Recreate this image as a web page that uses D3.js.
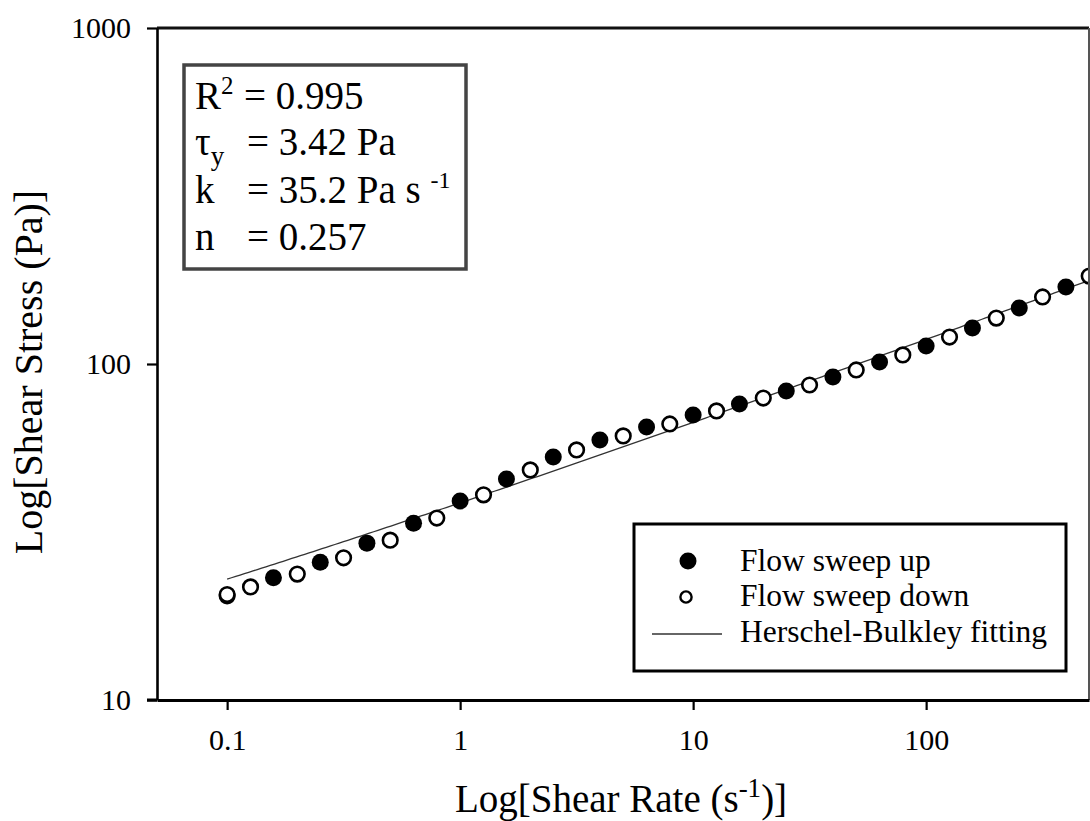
<!DOCTYPE html>
<html>
<head>
<meta charset="utf-8">
<script src="https://cdn.jsdelivr.net/npm/d3@7"></script>
<style>
  html, body { margin: 0; padding: 0; background: #fff; }
  svg { display: block; font-family: "Liberation Serif", "Times New Roman", serif; }
  svg text { font-family: "Liberation Serif", "Times New Roman", serif; }
</style>
</head>
<body>
<svg id="chart" width="1090" height="821"></svg>
<script>
// Flow sweep measurements: shear rate (1/s) and shear stress (Pa)
const shearUp = [0.1, 0.158, 0.251, 0.398, 0.631, 1, 1.58, 2.51, 3.98, 6.31, 10, 15.8, 25.1, 39.8, 63.1, 100, 158, 251, 398];
const stressUp = [20.4, 23.1, 25.7, 29.3, 33.6, 39.1, 45.5, 52.9, 59.4, 64.9, 70.5, 76.0, 83.1, 91.5, 101.4, 113.1, 128.0, 146.8, 169.5];

const shearDown = [0.1, 0.126, 0.2, 0.316, 0.501, 0.794, 1.26, 2.0, 3.16, 5.01, 7.94, 12.6, 20, 31.6, 50.1, 79.4, 126, 200, 316, 501];
const stressDown = [20.6, 21.7, 23.7, 26.5, 29.9, 34.8, 40.8, 48.4, 55.5, 61.1, 66.3, 72.5, 79.2, 86.6, 96.0, 106.4, 120.3, 137.0, 158.3, 182.7];

// Herschel-Bulkley parameters
const hbTauY = 3.42;
const hbK = 35.2;
const hbN = 0.257;
const hbR2 = 0.995;
const fitRange = [0.1, 500];

// Axis ticks
const xTicks = [0.1, 1, 10, 100];
const xTickLabels = ["0.1", "1", "10", "100"];
const yTicks = [10, 100, 1000];
const yTickLabels = ["10", "100", "1000"];

const legendLabels = ["Flow sweep up", "Flow sweep down", "Herschel-Bulkley fitting"];

const svg = d3.select("#chart");
const plotL = 157, plotR = 1089, plotT = 28, plotB = 700;

const x = d3.scaleLog().domain([0.05, 500]).range([plotL, plotR]);
const y = d3.scaleLog().domain([10, 1000]).range([plotB, plotT]);

// Fit curve from the stated model
const hb = g => hbTauY + hbK * Math.pow(g, hbN);
const lx0 = Math.log10(fitRange[0]), lx1 = Math.log10(fitRange[1]);
const fitPts = d3.range(0, 201).map(i => {
  const g = Math.pow(10, lx0 + (lx1 - lx0) * i / 200);
  return [g, hb(g)];
});
svg.append("path")
  .datum(fitPts)
  .attr("fill", "none")
  .attr("stroke", "#333")
  .attr("stroke-width", 1.3)
  .attr("d", d3.line().x(d => x(d[0])).y(d => y(d[1])));

// Sweep up (filled)
svg.append("g").selectAll("circle")
  .data(shearUp.map((g, i) => [g, stressUp[i]]))
  .join("circle")
  .attr("cx", d => x(d[0]))
  .attr("cy", d => y(d[1]))
  .attr("r", 8.5)
  .attr("fill", "#000");

// Sweep down (open)
svg.append("g").selectAll("circle")
  .data(shearDown.map((g, i) => [g, stressDown[i]]))
  .join("circle")
  .attr("cx", d => x(d[0]))
  .attr("cy", d => y(d[1]))
  .attr("r", 7.3)
  .attr("fill", "#fff")
  .attr("stroke", "#000")
  .attr("stroke-width", 2.6);

// Frame
svg.append("line").attr("x1", plotL).attr("x2", plotR).attr("y1", plotT).attr("y2", plotT)
  .attr("stroke", "#111").attr("stroke-width", 3);
svg.append("line").attr("x1", plotR).attr("x2", plotR).attr("y1", plotT).attr("y2", plotB)
  .attr("stroke", "#555").attr("stroke-width", 2);

// Axes
const tickFont = 30;
const xAxis = d3.axisBottom(x).tickValues(xTicks).tickFormat((d, i) => xTickLabels[i])
  .tickSizeInner(10).tickSizeOuter(0).tickPadding(19);
const gx = svg.append("g").attr("transform", `translate(0,${plotB})`).call(xAxis)
  .attr("font-family", "Liberation Serif");
gx.select(".domain").attr("stroke", "#000").attr("stroke-width", 3);
gx.selectAll(".tick line").attr("stroke", "#000").attr("stroke-width", 2.2);
gx.selectAll(".tick text").attr("font-size", tickFont).attr("fill", "#000");

const yAxis = d3.axisLeft(y).tickValues(yTicks).tickFormat((d, i) => yTickLabels[i])
  .tickSizeInner(10).tickSizeOuter(0).tickPadding(16);
const gy = svg.append("g").attr("transform", `translate(${plotL},0)`).call(yAxis)
  .attr("font-family", "Liberation Serif");
gy.select(".domain").attr("stroke", "#000").attr("stroke-width", 2.6);
gy.selectAll(".tick line").attr("stroke", "#000").attr("stroke-width", 2.2);
gy.selectAll(".tick text").attr("font-size", tickFont).attr("fill", "#000");
// extend the bottom axis line to meet the tick at 10
svg.append("line").attr("x1", plotL - 10).attr("x2", plotL).attr("y1", plotB).attr("y2", plotB)
  .attr("stroke", "#000").attr("stroke-width", 3);

// Axis titles
const xt = svg.append("text").attr("x", 621).attr("y", 812)
  .attr("text-anchor", "middle").attr("font-size", 39).attr("fill", "#000");
xt.append("tspan").text("Log[Shear Rate (s");
xt.append("tspan").attr("dy", -15).attr("font-size", 27).text("-1");
xt.append("tspan").attr("dy", 15).text(")]");

svg.append("text")
  .attr("transform", "translate(42,372) rotate(-90)")
  .attr("text-anchor", "middle").attr("font-size", 40).attr("fill", "#000")
  .text("Log[Shear Stress (Pa)]");

// Model parameter box
svg.append("rect").attr("x", 184).attr("y", 65).attr("width", 282).attr("height", 204)
  .attr("fill", "#fff").attr("stroke", "#444").attr("stroke-width", 3.5);
const fs = 39, eqX = 244;
const l1 = svg.append("text").attr("x", 195).attr("y", 109).attr("font-size", fs);
l1.append("tspan").text("R");
l1.append("tspan").attr("dy", -15).attr("font-size", 25).text("2");
l1.append("tspan").attr("x", eqX).attr("dy", 15).text("= " + hbR2.toFixed(3));

const l2 = svg.append("text").attr("x", 195).attr("y", 155).attr("font-size", fs);
l2.append("tspan").text("τ");
l2.append("tspan").attr("dy", 10).attr("font-size", 27).text("y");
l2.append("tspan").attr("x", eqX + 3).attr("dy", -10).text("= " + hbTauY.toFixed(2) + " Pa");

const l3 = svg.append("text").attr("x", 195).attr("y", 203).attr("font-size", fs);
l3.append("tspan").text("k");
l3.append("tspan").attr("x", eqX + 3).text("= " + hbK.toFixed(1) + " Pa s ");
l3.append("tspan").attr("dy", -15).attr("font-size", 24).text("-1");

const l4 = svg.append("text").attr("x", 195).attr("y", 250).attr("font-size", fs);
l4.append("tspan").text("n");
l4.append("tspan").attr("x", eqX + 3).text("= " + hbN.toFixed(3));

// Legend
svg.append("rect").attr("x", 634).attr("y", 524).attr("width", 432).attr("height", 147)
  .attr("fill", "#fff").attr("stroke", "#000").attr("stroke-width", 3);
const lgFs = 31.5, lgTx = 740;
svg.append("circle").attr("cx", 688).attr("cy", 561).attr("r", 8.5).attr("fill", "#000");
svg.append("text").attr("x", lgTx).attr("y", 571).attr("font-size", lgFs).text(legendLabels[0]);
svg.append("circle").attr("cx", 686).attr("cy", 597).attr("r", 5.6)
  .attr("fill", "#fff").attr("stroke", "#000").attr("stroke-width", 2.4);
svg.append("text").attr("x", lgTx).attr("y", 606).attr("font-size", lgFs).text(legendLabels[1]);
svg.append("line").attr("x1", 652).attr("x2", 722).attr("y1", 634).attr("y2", 634)
  .attr("stroke", "#333").attr("stroke-width", 1.4);
svg.append("text").attr("x", lgTx).attr("y", 642).attr("font-size", lgFs).text(legendLabels[2]);
</script>
</body>
</html>
